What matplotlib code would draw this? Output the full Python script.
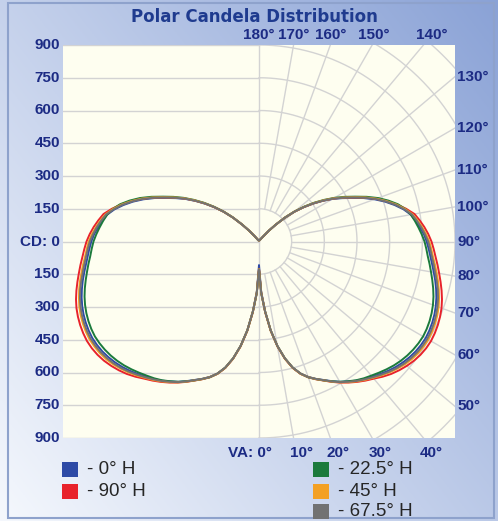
import numpy as np
import matplotlib
matplotlib.use('Agg')
import matplotlib.pyplot as plt
from matplotlib.patches import Rectangle
from matplotlib.colors import to_rgb

# vertical angles (deg from nadir, 2.5 deg steps) and candela per horizontal plane
va_angles = np.arange(0, 180.1, 2.5)
tail = [6] * 12  # 152.5 .. 180
cd_0h = [108, 230, 320, 410, 485, 548, 598, 634, 660, 681, 700, 721, 742, 760, 778, 794, 808, 823, 838,
         851, 862, 871, 878, 882, 884, 882, 878, 872, 864, 854, 842, 829, 815, 802, 790, 780, 770, 758,
         742, 726, 708, 680, 645, 607, 565, 520, 472, 430, 390, 346, 302, 257, 212, 162, 110, 68, 35,
         20, 12, 10, 8] + tail
cd_22h = [128, 238, 322, 411, 486, 548, 598, 635, 662, 682, 702, 722, 742, 759, 776, 790, 802, 815, 828,
          840, 850, 858, 864, 868, 870, 868, 864, 858, 850, 840, 828, 815, 802, 790, 778, 769, 760, 748,
          735, 722, 708, 688, 660, 623, 582, 535, 486, 443, 400, 355, 310, 263, 216, 165, 112, 69, 36,
          20, 12, 10, 8] + tail
cd_45h = [126, 236, 322, 411, 487, 549, 599, 635, 661, 682, 702, 724, 745, 764, 782, 799, 815, 832, 848,
          862, 875, 885, 892, 896, 898, 896, 892, 886, 878, 867, 855, 842, 828, 815, 802, 792, 782, 768,
          752, 735, 716, 687, 654, 615, 574, 528, 480, 437, 396, 351, 306, 260, 214, 163, 111, 68, 35,
          20, 12, 10, 8] + tail
cd_67h = [127, 237, 322, 410, 486, 548, 598, 634, 661, 681, 701, 723, 744, 762, 780, 796, 812, 828, 844,
          858, 870, 879, 886, 890, 892, 890, 886, 880, 872, 862, 850, 836, 822, 809, 797, 787, 777, 763,
          748, 731, 713, 683, 650, 611, 570, 524, 477, 434, 393, 348, 304, 259, 213, 162, 110, 68, 35,
          20, 12, 10, 8] + tail
cd_90h = [125, 236, 325, 413, 488, 550, 600, 636, 662, 683, 703, 725, 746, 766, 785, 803, 820, 840, 858,
          873, 886, 897, 905, 910, 912, 910, 906, 900, 892, 881, 868, 854, 840, 827, 814, 803, 792, 778,
          762, 744, 725, 692, 655, 615, 572, 526, 478, 435, 394, 349, 304, 258, 212, 162, 110, 68, 35,
          20, 12, 10, 8] + tail

series = {
    '- 0° H': (cd_0h, '#2d4aa6'),
    '- 90° H': (cd_90h, '#e8222b'),
    '- 22.5° H': (cd_22h, '#1b7a3c'),
    '- 45° H': (cd_45h, '#f3a024'),
    '- 67.5° H': (cd_67h, '#727272'),
}
legend_left = ['- 0° H', '- 90° H']
legend_right = ['- 22.5° H', '- 45° H', '- 67.5° H']

cd_levels = [900, 750, 600, 450, 300, 150, 0, -150, -300, -450, -600, -750, -900]
right_angles = [50, 60, 70, 80, 90, 100, 110, 120, 130]
top_angles = [140, 150, 160, 170, 180]
top_shift = [8, 2, 0, 0, 0]
bottom_angles = [10, 20, 30, 40]

W, H = 498, 521
fig = plt.figure(figsize=(W / 100, H / 100), dpi=100)

# blue gradient background
bg = fig.add_axes([0, 0, 1, 1], zorder=-10)
X, Y = np.meshgrid(np.linspace(0, 1, 200), np.linspace(0, 1, 200))
t = np.clip(0.55 * X + 0.45 * (1 - Y), 0, 1)[..., None]
light, dark = np.array(to_rgb('#f5f8fd')), np.array(to_rgb('#8aa2d6'))
bg.imshow(light * (1 - t) + dark * t, extent=[0, 1, 0, 1], aspect='auto', origin='upper')
bg.add_patch(Rectangle((8 / W, (H - 518) / H), 486 / W, 515 / H, fill=False, edgecolor='#8ea2cc', lw=1.5))
bg.set_xlim(0, 1)
bg.set_ylim(0, 1)
bg.set_axis_off()

ax = fig.add_axes([63 / W, (H - 438) / H, 392 / W, 393 / H])
ax.set_facecolor('#fefef0')
ax.set_xlim(-900, 900)
ax.set_ylim(-900, 900)
ax.set_xticks([])
ax.set_yticks([])
for s in ax.spines.values():
    s.set_visible(False)

gc = '#d3d3d3'
for v in cd_levels:
    ax.plot([-900, 0], [v, v], color=gc, lw=1, zorder=1)
ax.plot([0, 0], [-900, 900], color=gc, lw=1, zorder=1)
th = np.radians(np.linspace(0, 180, 361))
for r in range(150, 1351, 150):
    ax.plot(r * np.sin(th), -r * np.cos(th), color=gc, lw=1, zorder=1)
for a in range(10, 180, 10):
    ar = np.radians(a)
    ax.plot([150 * np.sin(ar), 1400 * np.sin(ar)], [-150 * np.cos(ar), -1400 * np.cos(ar)],
            color=gc, lw=1, zorder=1)

# candela curves: right half as measured, left half mirrored
va = np.radians(va_angles)
for name, (cd, col) in series.items():
    cd = np.array(cd, dtype=float)
    xr, yr = cd * np.sin(va), -cd * np.cos(va)
    xs = np.concatenate([-xr[::-1], xr])
    ys = np.concatenate([yr[::-1], yr])
    ax.plot(xs, ys, color=col, lw=1.4, zorder=3, solid_joinstyle='round')

lab = dict(family='Liberation Sans', fontweight='bold', fontsize=11, color='#1c2b84')
for v in cd_levels:
    txt = 'CD: 0' if v == 0 else str(abs(v))
    ax.annotate(txt, xy=(-900, v), xytext=(-3, 0), textcoords='offset pixels',
                ha='right', va='center', annotation_clip=False, **lab)
for a in right_angles:
    y = -900 / np.tan(np.radians(a))
    ax.annotate(f'{a}°', xy=(900, y), xytext=(2, 0), textcoords='offset pixels',
                ha='left', va='center', annotation_clip=False, **lab)
for a, dx in zip(top_angles, top_shift):
    x = -900 * np.tan(np.radians(a))
    ax.annotate(f'{a}°', xy=(x, 900), xytext=(dx, 10), textcoords='offset pixels',
                ha='center', va='center', annotation_clip=False, **lab)
ax.annotate('VA: 0°', xy=(0, -900), xytext=(13, -15), textcoords='offset pixels',
            ha='right', va='center', annotation_clip=False, **lab)
for a in bottom_angles:
    x = 900 * np.tan(np.radians(a))
    ax.annotate(f'{a}°', xy=(x, -900), xytext=(8, -15), textcoords='offset pixels',
                ha='center', va='center', annotation_clip=False, **lab)

fig.text(254 / W, 1 - 17 / H, 'Polar Candela Distribution', ha='center', va='center',
         fontsize=12, fontweight='bold', color='#1f3b8f')

# legend, drawn by hand
row_y = [469.5, 491, 511]
for col_x, names in [(62, legend_left), (313, legend_right)]:
    for i, name in enumerate(names):
        fig.add_artist(Rectangle((col_x / W, 1 - (row_y[i] + 7.5) / H), 16 / W, 15 / H,
                                 transform=fig.transFigure, facecolor=series[name][1], edgecolor='none'))
        fig.text((col_x + 25) / W, 1 - row_y[i] / H, name, ha='left', va='center',
                 family='Liberation Sans', fontsize=13.5, color='#262626')

fig.savefig('out.png', dpi=100)
